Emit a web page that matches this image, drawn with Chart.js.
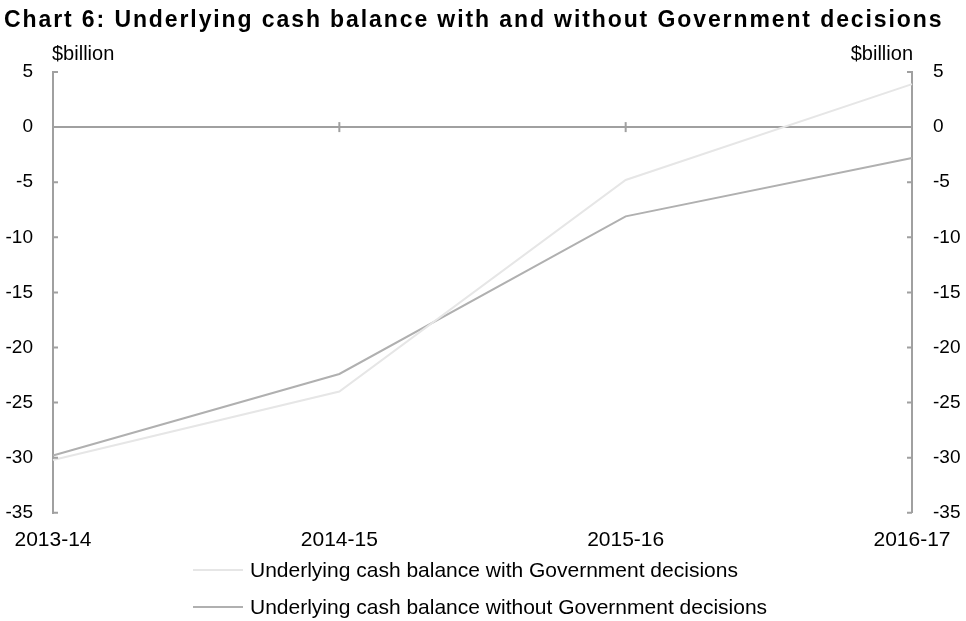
<!DOCTYPE html>
<html>
<head>
<meta charset="utf-8">
<script src="https://cdn.jsdelivr.net/npm/chart.js@4"></script>
<style>
  html, body { margin: 0; padding: 0; background: #fff; }
  #wrap { position: relative; width: 966px; height: 621px; }
  #legend { position: absolute; left: 193px; top: 556px; font: 21px 'Liberation Sans', Arial, sans-serif; color: #000; }
  #legend .row { display: flex; align-items: center; height: 28px; margin-bottom: 9px; white-space: nowrap; }
  #legend .swatch { width: 50px; height: 0; border-top: 2px solid; margin-right: 7px; }
</style>
</head>
<body>
<div id="wrap">
  <canvas id="chart6"></canvas>
  <div id="legend"></div>
</div>
<script>
const chartTitle = "Chart 6: Underlying cash balance with and without Government decisions";
const years = ["2013-14", "2014-15", "2015-16", "2016-17"];
const withDecisions = [-30.2, -24.0, -4.8, 3.9];
const withoutDecisions = [-29.8, -22.4, -8.1, -2.8];
const yTicks = [5, 0, -5, -10, -15, -20, -25, -30, -35];

const FONT = "'Liberation Sans', Arial, sans-serif";
const AXIS_GREY = "#a0a0a0";

// title, inward tick marks, zero line ticks and the two "$billion" labels
const decorations = {
  id: "decorations",
  afterDraw(chart) {
    const { ctx, chartArea, scales } = chart;
    const y = scales.y, x = scales.x;
    ctx.save();
    ctx.strokeStyle = AXIS_GREY;
    ctx.lineWidth = 2;
    for (let v of yTicks) {
      const py = y.getPixelForValue(v);
      ctx.beginPath();
      ctx.moveTo(chartArea.left, py);
      ctx.lineTo(chartArea.left + 5, py);
      ctx.moveTo(chartArea.right, py);
      ctx.lineTo(chartArea.right - 5, py);
      ctx.stroke();
    }
    const zero = y.getPixelForValue(0);
    for (let i = 1; i < years.length - 1; i++) {
      const px = x.getPixelForValue(i);
      ctx.beginPath();
      ctx.moveTo(px, zero - 5);
      ctx.lineTo(px, zero + 5);
      ctx.stroke();
    }

    ctx.fillStyle = "#000";
    ctx.textBaseline = "alphabetic";
    ctx.font = "20px " + FONT;
    ctx.textAlign = "left";
    ctx.fillText("$billion", chartArea.left - 1, chartArea.top - 12);
    ctx.textAlign = "right";
    ctx.fillText("$billion", chartArea.right + 1, chartArea.top - 12);

    // the title in the original is a little spaced out
    ctx.font = "bold 23px " + FONT;
    ctx.letterSpacing = "1.9px";
    ctx.textAlign = "left";
    ctx.fillText(chartTitle, 4, 27);
    ctx.restore();
  }
};

const chart = new Chart(document.getElementById("chart6"), {
  type: "line",
  data: {
    labels: years,
    datasets: [{
      label: "Underlying cash balance with Government decisions",
      data: withDecisions,
      borderColor: "#e6e6e6",
      borderWidth: 2,
      pointRadius: 0,
      tension: 0
    }, {
      label: "Underlying cash balance without Government decisions",
      data: withoutDecisions,
      borderColor: "#b0b0b0",
      borderWidth: 2,
      pointRadius: 0,
      tension: 0
    }]
  },
  options: {
    responsive: true,
    maintainAspectRatio: false,
    animation: false,
    layout: { padding: { left: 0, right: 0, top: 72, bottom: 61 } },
    scales: {
      x: {
        offset: false,
        border: { display: false },
        grid: { display: false },
        ticks: {
          color: "#000",
          font: { family: FONT, size: 21 },
          maxRotation: 0,
          autoSkip: false,
          padding: 7
        }
      },
      y: {
        position: "left",
        min: -35,
        max: 5,
        afterFit(scale) { scale.width = 53; },
        afterBuildTicks(scale) { scale.ticks = yTicks.map(v => ({ value: v })); },
        border: { display: true, color: AXIS_GREY, width: 2 },
        grid: {
          drawTicks: false,
          color: ctx => ctx.tick && ctx.tick.value === 0 ? AXIS_GREY : "rgba(0,0,0,0)",
          lineWidth: 2
        },
        ticks: {
          color: "#000",
          font: { family: FONT, size: 19 },
          padding: 20
        }
      },
      y2: {
        position: "right",
        min: -35,
        max: 5,
        afterFit(scale) { scale.width = 54; },
        afterBuildTicks(scale) { scale.ticks = yTicks.map(v => ({ value: v })); },
        border: { display: true, color: AXIS_GREY, width: 2 },
        grid: { display: false, drawTicks: false },
        ticks: {
          color: "#000",
          font: { family: FONT, size: 19 },
          padding: 21
        }
      }
    },
    plugins: {
      title: { display: false },
      legend: { display: false },
      tooltip: { enabled: false }
    }
  },
  plugins: [decorations]
});

// legend rows, one per series, left aligned like the original
const legendBox = document.getElementById("legend");
for (let ds of chart.data.datasets) {
  const row = document.createElement("div");
  row.className = "row";
  const swatch = document.createElement("span");
  swatch.className = "swatch";
  swatch.style.borderColor = ds.borderColor;
  const label = document.createElement("span");
  label.textContent = ds.label;
  row.appendChild(swatch);
  row.appendChild(label);
  legendBox.appendChild(row);
}
</script>
</body>
</html>
